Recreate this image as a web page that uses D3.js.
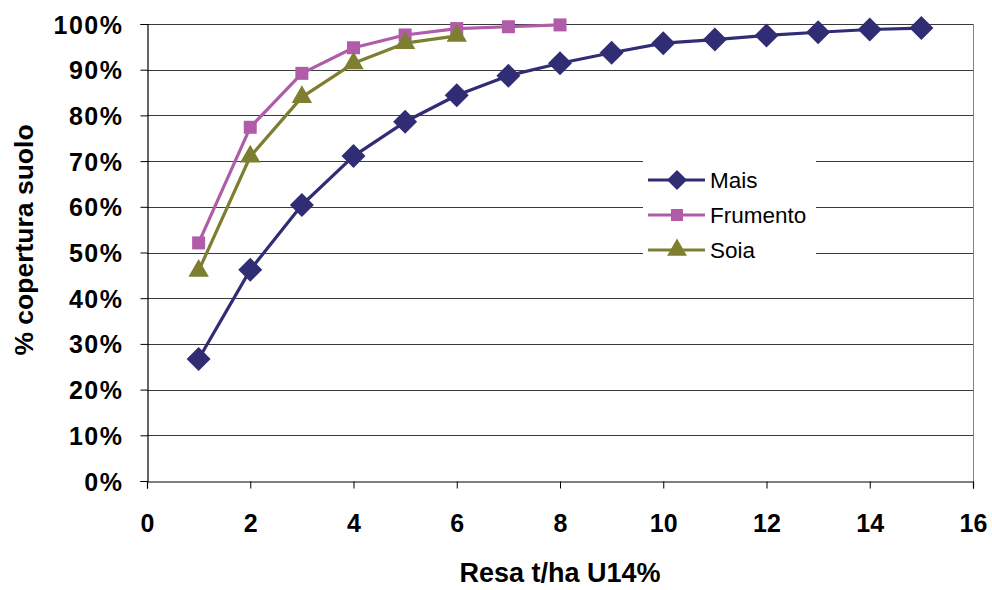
<!DOCTYPE html>
<html>
<head>
<meta charset="utf-8">
<script src="https://cdn.jsdelivr.net/npm/d3@7"></script>
<style>
  body { margin: 0; background: #fff; }
  text { font-family: "Liberation Sans", Arial, sans-serif; }
</style>
</head>
<body>
<div id="graph"></div>
<script>
const width = 992
const height = 590
const margin = {left: 147, right: 19, top: 24, bottom: 109}

// data
const resa = [1, 2, 3, 4, 5, 6, 7, 8, 9, 10, 11, 12, 13, 14, 15]
const mais = [26.7, 46.2, 60.4, 71.1, 78.6, 84.4, 88.7, 91.4, 93.7, 95.8, 96.6, 97.5, 98.2, 98.8, 99.1]
const frumento = [52.1, 77.4, 89.2, 94.8, 97.6, 99.0, 99.4, 99.8]
const soia = [46.0, 71.0, 84.0, 91.4, 95.8, 97.4]
const xTicks = [0, 2, 4, 6, 8, 10, 12, 14, 16]
const yTicks = [0, 10, 20, 30, 40, 50, 60, 70, 80, 90, 100]

const series = [
  {name: 'Mais', values: mais, color: '#312d74', marker: 'diamond'},
  {name: 'Frumento', values: frumento, color: '#b05ca8', marker: 'square'},
  {name: 'Soia', values: soia, color: '#7e7e30', marker: 'triangle'}
]

const svg = d3.select('#graph')
  .append('svg')
  .attr('width', width)
  .attr('height', height)

const x = d3.scaleLinear().domain([0, 16]).range([margin.left, width - margin.right])
const y = d3.scaleLinear().domain([0, 100]).range([height - margin.bottom, margin.top])

// gridlines
svg.append('g')
  .selectAll('line')
  .data(yTicks.slice(1))
  .join('line')
  .attr('x1', x(0)).attr('x2', x(16))
  .attr('y1', d => Math.round(y(d)) + 0.5).attr('y2', d => Math.round(y(d)) + 0.5)
  .attr('stroke', '#3a3a3a')
  .attr('stroke-width', 1)

// plot border (right side)
svg.append('line')
  .attr('x1', Math.round(x(16)) + 0.5).attr('x2', Math.round(x(16)) + 0.5)
  .attr('y1', y(100)).attr('y2', y(0))
  .attr('stroke', '#808080')

// axes
const xAxis = svg.append('g')
  .attr('transform', `translate(0,${Math.round(y(0)) + 0.5})`)
  .call(d3.axisBottom(x).tickValues(xTicks).tickSize(7).tickPadding(26).tickFormat(d3.format('d')))
const yAxis = svg.append('g')
  .attr('transform', `translate(${Math.round(x(0)) + 0.5},0)`)
  .call(d3.axisLeft(y).tickValues(yTicks).tickSize(7).tickPadding(17).tickFormat(d => d + '%'))

for (const ax of [xAxis, yAxis]) {
  ax.select('.domain').attr('stroke', '#000').attr('stroke-width', 1.2)
  ax.selectAll('.tick line').attr('stroke', '#000')
  ax.selectAll('.tick text')
    .attr('fill', '#000')
    .style('font-family', '"Liberation Sans", Arial, sans-serif')
    .style('font-weight', 'bold')
    .style('font-size', '25px')
}
yAxis.selectAll('.tick text').attr('dy', '0.36em').style('letter-spacing', '1.5px')

// marker shapes
const diamond = {
  draw(ctx, size) {
    const r = Math.sqrt(size) / 2
    ctx.moveTo(0, -r); ctx.lineTo(r, 0); ctx.lineTo(0, r); ctx.lineTo(-r, 0); ctx.closePath()
  }
}
const symbols = {
  diamond: d3.symbol().type(diamond).size(24 * 24),
  square: d3.symbol().type(d3.symbolSquare).size(13 * 13),
  triangle: d3.symbol().type(d3.symbolTriangle).size(180)
}
const legendSymbols = {
  diamond: d3.symbol().type(diamond).size(20 * 20),
  square: d3.symbol().type(d3.symbolSquare).size(12 * 12),
  triangle: d3.symbol().type(d3.symbolTriangle).size(170)
}

const line = d3.line().x((d, i) => x(resa[i])).y(d => y(d))

for (const s of series) {
  svg.append('path')
    .datum(s.values)
    .attr('d', line)
    .attr('fill', 'none')
    .attr('stroke', s.color)
    .attr('stroke-width', 3.2)
    .attr('stroke-linejoin', 'round')
  svg.append('g')
    .selectAll('path')
    .data(s.values)
    .join('path')
    .attr('transform', (d, i) => `translate(${x(resa[i])},${y(d)})`)
    .attr('d', symbols[s.marker])
    .attr('fill', s.color)
}

// legend
const legend = svg.append('g').attr('transform', 'translate(643,150)')
legend.append('rect')
  .attr('width', 173).attr('height', 118)
  .attr('fill', '#fff')
series.forEach((s, i) => {
  const g = legend.append('g').attr('transform', `translate(0,${30 + i * 35})`)
  g.append('line')
    .attr('x1', 5).attr('x2', 62)
    .attr('stroke', s.color).attr('stroke-width', 3.2)
  g.append('path')
    .attr('transform', 'translate(34,0)')
    .attr('d', legendSymbols[s.marker])
    .attr('fill', s.color)
  g.append('text')
    .attr('x', 67).attr('dy', '0.36em')
    .style('font-size', '22.5px')
    .text(s.name)
})

// axis titles
svg.append('text')
  .attr('x', x(8)).attr('y', 582)
  .attr('text-anchor', 'middle')
  .style('font-size', '27px').style('font-weight', 'bold')
  .text('Resa t/ha U14%')
svg.append('text')
  .attr('transform', `translate(33,240) rotate(-90)`)
  .attr('text-anchor', 'middle')
  .style('font-size', '26.5px').style('font-weight', 'bold')
  .text('% copertura suolo')
</script>
</body>
</html>
